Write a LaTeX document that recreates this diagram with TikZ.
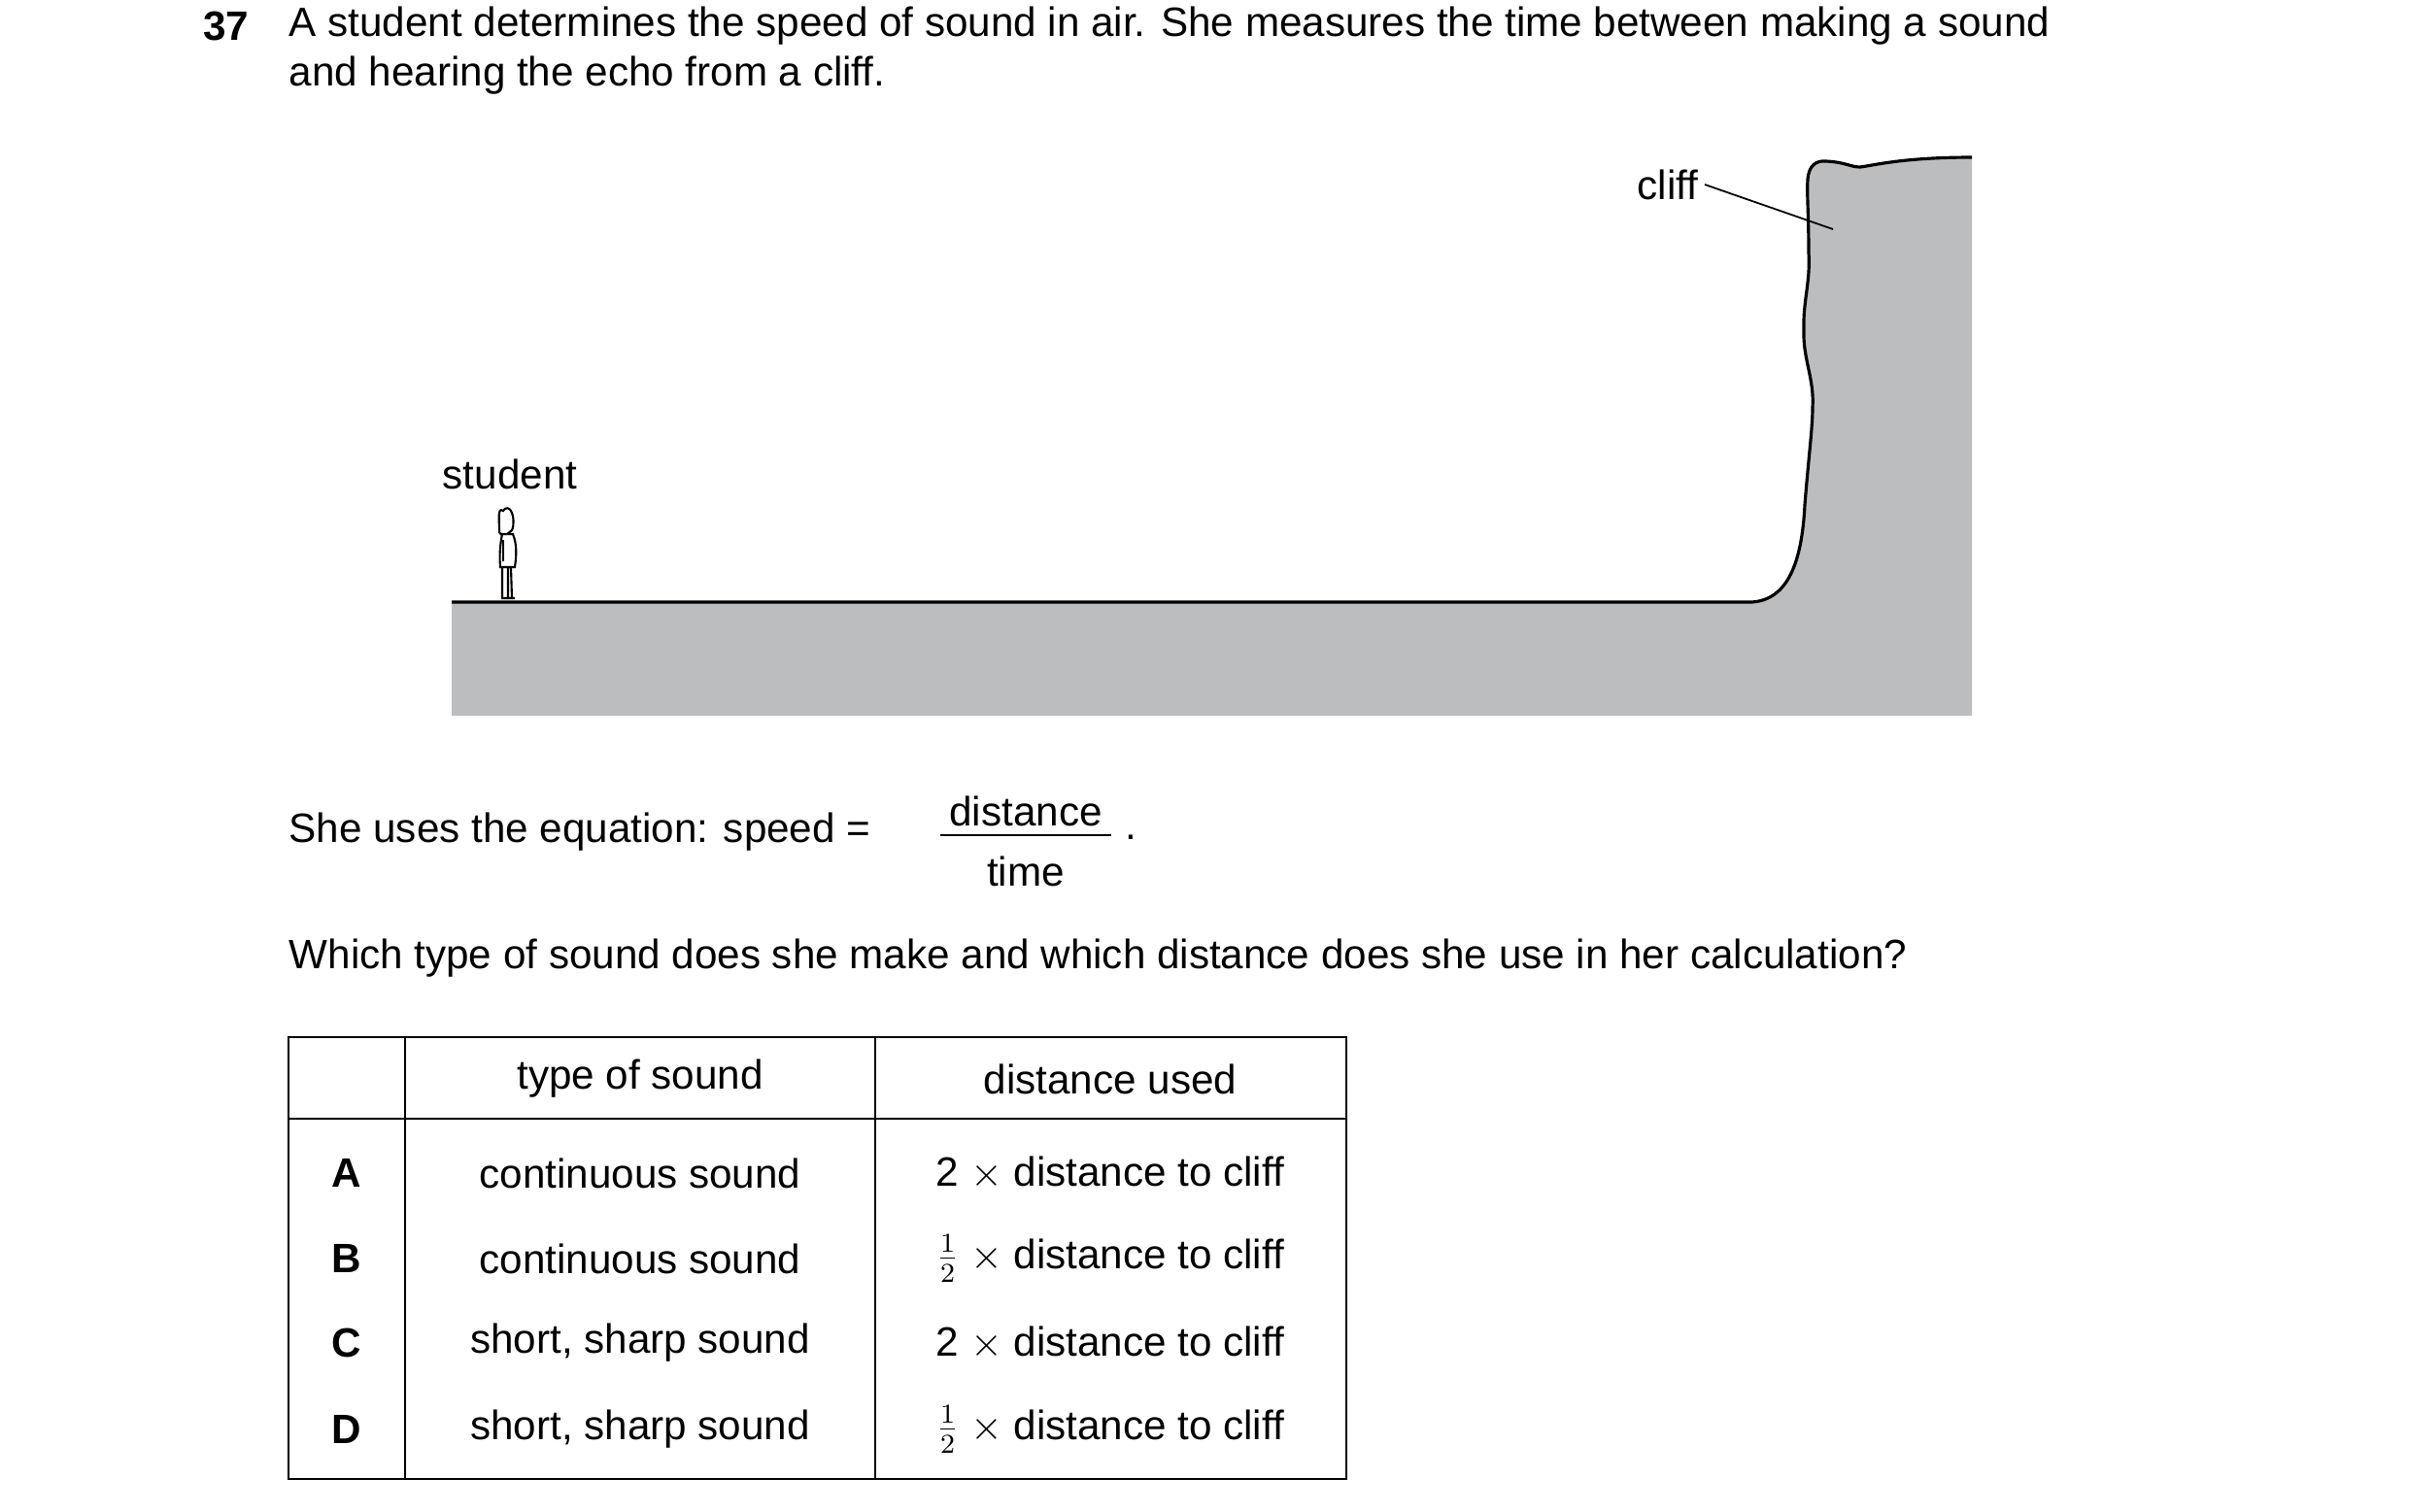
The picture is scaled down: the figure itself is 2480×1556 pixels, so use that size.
\documentclass[tikz,border=0pt]{standalone}
\usepackage{fontspec}
\setmainfont{Liberation Sans}
\begin{document}
\begin{tikzpicture}[x=0.01cm,y=-0.01cm,
  txt/.style={font=\fontsize{12}{14}\selectfont, inner sep=0pt},
  cell/.style={txt, anchor=center},
  ln/.style={line width=0.9pt}]
\useasboundingbox (0,0) rectangle (2480,1556);
\definecolor{rock}{RGB}{188,189,191}
% question
\node[txt, font=\fontsize{12}{14}\selectfont\bfseries] (num) at (233,27) {37};
\node[txt, anchor=west] (l1) at (297,27) {A student determines the speed of sound in air. She measures the time between making a sound};
\node[txt, anchor=west] (l2) at (297,78) {and hearing the echo from a cliff.};
% ground and cliff
\fill[rock] (465,620) -- (1803,620) .. controls (1840,618) and (1855,580) .. (1858,520)
  .. controls (1862,470) and (1866,440) .. (1866,420) .. controls (1868,390) and (1856,370) .. (1857,340)
  .. controls (1856,310) and (1864,290) .. (1862,260) .. controls (1862,220) and (1860,200) .. (1861,185)
  .. controls (1862,170) and (1870,165) .. (1880,166) .. controls (1900,167) and (1905,172) .. (1915,172)
  .. controls (1930,170) and (1960,162) .. (2030,162) -- (2030,737) -- (465,737) -- cycle;
\draw[ln] (465,620) -- (1803,620) .. controls (1840,618) and (1855,580) .. (1858,520)
  .. controls (1862,470) and (1866,440) .. (1866,420) .. controls (1868,390) and (1856,370) .. (1857,340)
  .. controls (1856,310) and (1864,290) .. (1862,260) .. controls (1862,220) and (1860,200) .. (1861,185)
  .. controls (1862,170) and (1870,165) .. (1880,166) .. controls (1900,167) and (1905,172) .. (1915,172)
  .. controls (1930,170) and (1960,162) .. (2030,162);
\node[txt] (cliff) at (1717,190) {cliff};
\coordinate (cl) at (1887,236);
\draw[line width=0.5pt] (cliff.east) ++(6,0) -- (cl);
% student
\node[txt] (student) at (525,488) {student};
\begin{scope}[line width=0.6pt, fill=white]
\draw[fill=white] (518,526) .. controls (512,522) and (514,534) .. (514,548) .. controls (516,552) and (520,552) .. (522,550) -- (527,546) .. controls (530,540) and (528,530) .. (527,528) .. controls (525,522) and (520,522) .. (518,526) -- cycle;
\draw[fill=white] (517,550) -- (528,550) .. controls (532,560) and (532,570) .. (530,584) -- (515,584) .. controls (514,570) and (515,560) .. (517,550) -- cycle;
\draw (518,556) -- (518,578);
\draw (517,584) -- (517,616) -- (530,616) (523,584) -- (523,616) (526,584) -- (527,616);
\end{scope}
% equation
\node[txt, anchor=west] (eq) at (297,857) {She uses the equation: speed =};
\node[txt] (dist) at (1056,835) {distance};
\node[txt] (time) at (1056,897) {time};
\draw[line width=0.6pt] (968,860) -- (1144,860);
\node[txt] (dot) at (1164,862) {.};
\node[txt, anchor=west] (q) at (297,987) {Which type of sound does she make and which distance does she use in her calculation?};
% table
\draw[line width=0.8pt] (297,1068) rectangle (1386,1523);
\draw[line width=0.8pt] (297,1152) -- (1386,1152) (417,1068) -- (417,1523) (901,1068) -- (901,1523);
\node[cell] (h1) at (659,1111) {type of sound};
\node[cell] (h2) at (1143,1111) {distance used};
\foreach \l/\y/\s/\d in {A/1208/continuous sound/{2 $\times$ distance to cliff},
  B/1296/continuous sound/{$\frac{1}{2}$ $\times$ distance to cliff},
  C/1383/{short, sharp sound}/{2 $\times$ distance to cliff},
  D/1472/{short, sharp sound}/{$\frac{1}{2}$ $\times$ distance to cliff}}{
  \node[cell, font=\fontsize{12}{14}\selectfont\bfseries] (r\l) at (357,\y) {\l};
  \node[cell] (s\l) at (659,\y) {\s};
  \node[cell] (d\l) at (1143,\y) {\d};
}
\end{tikzpicture}
\end{document}
